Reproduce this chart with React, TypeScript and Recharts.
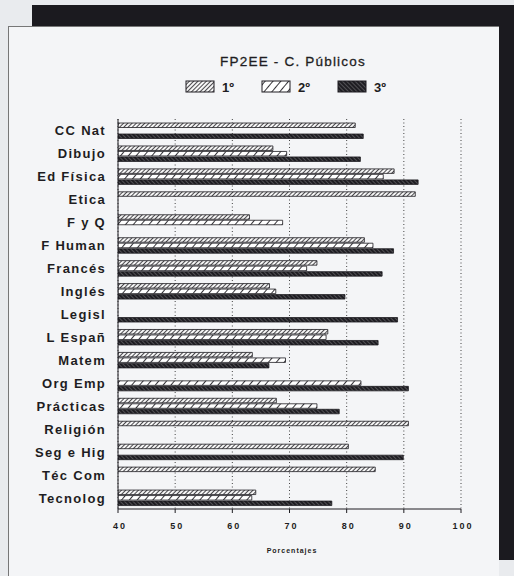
import React from 'react';
import { BarChart, Bar, XAxis, YAxis, CartesianGrid } from 'recharts';

const categories = ['CC Nat', 'Dibujo', 'Ed Física', 'Etica', 'F y Q', 'F Human', 'Francés', 'Inglés', 'Legisl', 'L Españ', 'Matem', 'Org Emp', 'Prácticas', 'Religión', 'Seg e Hig', 'Téc Com', 'Tecnolog'];
const primero: (number | null)[] = [81.5, 67.1, 88.3, 92, 63, 83.1, 74.8, 66.5, null, 76.7, 63.5, null, 67.7, 90.8, 80.3, 85, 64.1];
const segundo: (number | null)[] = [null, 69.5, 86.4, null, 68.8, 84.6, 73, 67.6, null, 76.4, 69.3, 82.5, 74.8, null, null, null, 63.4];
const tercero: (number | null)[] = [82.9, 82.4, 92.5, null, null, 88.2, 86.2, 79.7, 88.9, 85.5, 66.4, 90.8, 78.7, null, 89.9, null, 77.4];
const seriesNames = ['1º', '2º', '3º'];
const seriesFills = ['url(#pat1)', 'url(#pat2)', 'url(#pat3)'];
const xTicks = [40, 50, 60, 70, 80, 90, 100];
const title = 'FP2EE - C. Públicos';
const xLabel = 'Porcentajes';

const data = categories.map((c, i) => ({ cat: c, s1: primero[i], s2: segundo[i], s3: tercero[i] }));

const INK = '#1e1d22';
const FONT = '"Liberation Sans", Arial, sans-serif';

const YTick = (props: any) => {
  const { x, y, payload } = props;
  return (
    <text x={x - 4} y={y + 5} textAnchor="end" fontFamily={FONT} fontWeight="bold" fontSize={13} letterSpacing={1.3} fill={INK}>
      {payload.value}
    </text>
  );
};

const XTick = (props: any) => {
  const { x, y, payload } = props;
  return (
    <text x={x + 2} y={y + 14} textAnchor="middle" fontFamily={FONT} fontWeight="bold" fontSize={9} letterSpacing={2} fill={INK}>
      {payload.value}
    </text>
  );
};

const legendX = [186, 262, 338];

export default function App() {
  return (
    <div style={{ position: 'fixed', left: 0, top: 0, width: 514, height: 576, background: '#e9ebee', overflow: 'hidden' }}>
      <div style={{ position: 'absolute', left: 32, top: 5, width: 482, height: 22, background: '#1b1a1f' }} />
      <div style={{ position: 'absolute', left: 498, top: 5, width: 16, height: 555, background: '#1b1a1f' }} />
      <div style={{ position: 'absolute', left: 8, top: 26, width: 490, height: 560, background: '#f4f5f7', borderLeft: '1px solid #777', borderTop: '1px solid #777' }} />
      <div style={{ position: 'absolute', left: 0, top: 54, width: 586, textAlign: 'center', fontFamily: FONT, fontSize: 13.5, letterSpacing: 1.2, color: INK, WebkitTextStroke: '0.3px #1e1d22' }}>
        {title}
      </div>
      <div style={{ position: 'absolute', left: 0, top: 547, width: 584, textAlign: 'center', fontFamily: FONT, fontWeight: 'bold', fontSize: 7, letterSpacing: 1, color: INK }}>
        {xLabel}
      </div>
      <svg style={{ position: 'absolute', left: 0, top: 79 }} width={514} height={16}>
        {seriesNames.map((n, i) => (
          <g key={n}>
            <rect x={legendX[i]} y={2} width={28} height={11} fill={seriesFills[i]} stroke={INK} strokeWidth={1} />
            <text x={legendX[i] + 36} y={13} fontFamily={FONT} fontWeight="bold" fontSize={13} fill={INK}>
              {n}
            </text>
          </g>
        ))}
      </svg>
      <div style={{ position: 'absolute', left: 0, top: 0 }}>
        <BarChart
          width={514}
          height={576}
          data={data}
          layout="vertical"
          margin={{ top: 119, right: 53, bottom: 37, left: 0 }}
          barSize={4.5}
          barGap={1}
        >
          <defs>
            <pattern id="pat1" width={3} height={3} patternUnits="userSpaceOnUse" patternTransform="rotate(45)">
              <rect width={3} height={3} fill="#f6f6f6" />
              <line x1={0} y1={0} x2={0} y2={3} stroke={INK} strokeWidth={1.6} />
            </pattern>
            <pattern id="pat2" width={6} height={6} patternUnits="userSpaceOnUse" patternTransform="rotate(40)">
              <rect width={6} height={6} fill="#ffffff" />
              <line x1={0} y1={0} x2={0} y2={6} stroke={INK} strokeWidth={1.8} />
            </pattern>
            <pattern id="pat3" width={3} height={3} patternUnits="userSpaceOnUse" patternTransform="rotate(-45)">
              <rect width={3} height={3} fill={INK} />
              <line x1={0} y1={0} x2={0} y2={3} stroke="#c8c8c8" strokeWidth={0.6} />
            </pattern>
          </defs>
          <CartesianGrid horizontal={false} stroke="#444" strokeDasharray="1 2.5" />
          <XAxis
            type="number"
            domain={[40, 100]}
            ticks={xTicks}
            allowDataOverflow
            stroke={INK}
            tickSize={4}
            height={30}
            tick={<XTick />}
          />
          <YAxis type="category" dataKey="cat" width={118} stroke={INK} tickLine={false} tick={<YTick />} interval={0} />
          <Bar dataKey="s1" name={seriesNames[0]} fill={seriesFills[0]} stroke={INK} strokeWidth={0.8} isAnimationActive={false} />
          <Bar dataKey="s2" name={seriesNames[1]} fill={seriesFills[1]} stroke={INK} strokeWidth={0.8} isAnimationActive={false} />
          <Bar dataKey="s3" name={seriesNames[2]} fill={seriesFills[2]} stroke={INK} strokeWidth={0.8} isAnimationActive={false} />
        </BarChart>
      </div>
    </div>
  );
}
